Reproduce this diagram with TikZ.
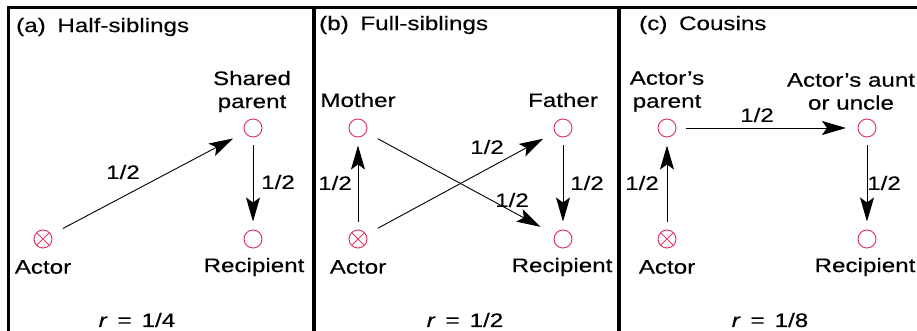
\documentclass[tikz,border=0pt]{standalone}
\usepackage{fontspec}
\setmainfont[FakeStretch=1.24,FakeBold=0.3]{Liberation Sans}
\usetikzlibrary{arrows.meta}
\definecolor{circ}{RGB}{222,60,105}
\begin{document}
\begin{tikzpicture}[x=1pt,y=-1pt,
  font=\fontsize{19.5}{23}\selectfont,
  pers/.style={circle,draw=circ,line width=1pt,minimum size=18pt,inner sep=0pt},
  actor/.style={pers,path picture={\draw[circ,line width=1pt]
      (path picture bounding box.north west)--(path picture bounding box.south east)
      (path picture bounding box.north east)--(path picture bounding box.south west);}},
  txt/.style={inner sep=0pt,align=center},
  lab/.style={inner sep=0pt},
  link/.style={draw,line width=0.9pt,-{Stealth[length=24pt,width=14pt,inset=5pt]}},
  straight/.style={link,shorten <=8pt,shorten >=8pt},
  slant/.style={link,shorten <=13pt,shorten >=13pt},
  frame/.style={line width=#1}
]
\useasboundingbox (0,0) rectangle (917,331);
% frame lines
\draw[frame=2.5pt] (7,7.5) -- (917,7.5);
\draw[frame=3pt] (8.5,6.5) -- (8.5,331);
\draw[frame=4pt] (314,6.5) -- (314,331);
\draw[frame=4pt] (619,6.5) -- (619,331);

% ---------- (a) Half-siblings
\node[txt,anchor=west] (ta) at (16,27) {(a)\hspace{0.6em}Half-siblings};
\node[actor] (aA) at (43,239) {};
\node[pers] (aS) at (253,128) {};
\node[pers] (aR) at (253,239) {};
\node[txt] (aAt) at (43,267) {Actor};
\node[txt] (aSt) at (252,91.5) {Shared\\parent};
\node[txt] (aRt) at (254,267) {Recipient};
\draw[slant] (aA) -- (aS);
\draw[straight] (aS) -- (aR);
\node[lab] (aL1) at (123,172) {1/2};
\node[lab] (aL2) at (278,182) {1/2};
\node[txt] (ar) at (137,320) {\textit{r}\, = \,1/4};

% ---------- (b) Full-siblings
\node[txt,anchor=west] (tb) at (319,25) {(b)\hspace{0.6em}Full-siblings};
\node[pers] (bM) at (358,128) {};
\node[pers] (bF) at (563,128) {};
\node[actor] (bA) at (358,239) {};
\node[pers] (bR) at (563,239) {};
\node[txt] (bMt) at (358,100) {Mother};
\node[txt] (bFt) at (563,100) {Father};
\node[txt] (bAt) at (358,267) {Actor};
\node[txt] (bRt) at (562,267) {Recipient};
\draw[straight] (bA) -- (bM);
\draw[slant] (bA) -- (bF);
\draw[link,shorten <=13pt,shorten >=16pt] (bM) -- (bR);
\draw[straight] (bF) -- (bR);
\node[lab] (bL1) at (335,183) {1/2};
\node[lab] (bL2) at (487,147) {1/2};
\node[lab] (bL3) at (512,200) {1/2};
\node[lab] (bL4) at (587,183) {1/2};
\node[txt] (br) at (465,320) {\textit{r}\, = \,1/2};

% ---------- (c) Cousins
\node[txt,anchor=west] (tc) at (639,25) {(c)\hspace{0.6em}Cousins};
\node[pers] (cP) at (667,128) {};
\node[pers] (cU) at (867,128) {};
\node[actor] (cA) at (667,239) {};
\node[pers] (cR) at (867,239) {};
\node[txt] (cPt) at (667,91.5) {Actor’s\\parent};
\node[txt] (cUt) at (851,91.5) {Actor’s aunt\\or uncle};
\node[txt] (cAt) at (667,267) {Actor};
\node[txt] (cRt) at (865,267) {Recipient};
\draw[link,shorten <=9.5pt,shorten >=11.5pt] (cP) -- (cU);
\draw[straight] (cA) -- (cP);
\draw[straight] (cU) -- (cR);
\node[lab] (cL1) at (757,115) {1/2};
\node[lab] (cL2) at (642,183) {1/2};
\node[lab] (cL3) at (884,183) {1/2};
\node[txt] (cr) at (770,320) {\textit{r}\, = \,1/8};
\end{tikzpicture}
\end{document}
